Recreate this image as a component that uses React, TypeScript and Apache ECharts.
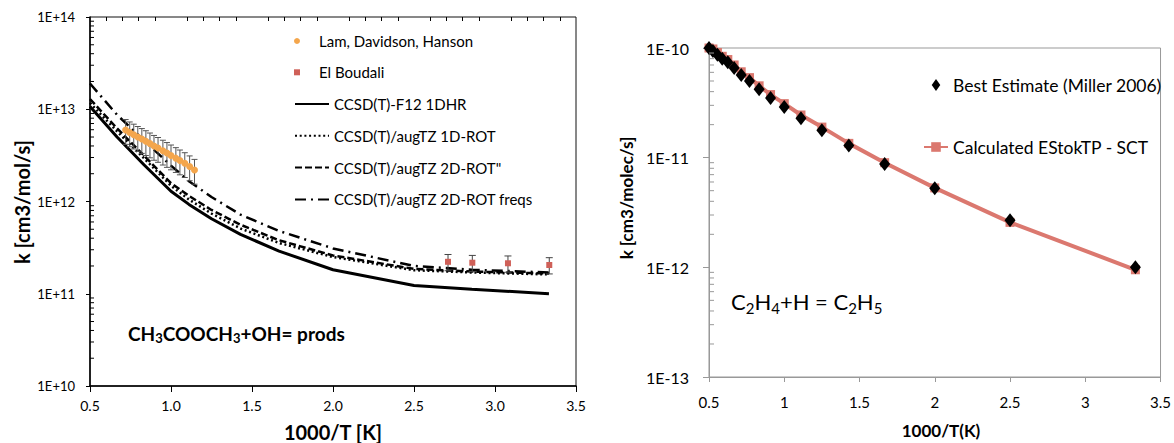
import React, { useEffect, useRef } from 'react';
import * as echarts from 'echarts';

const FONT = 'Lato, "Open Sans", sans-serif';

// ---------- Left chart: CH3COOCH3 + OH ----------
const MODEL_X = [0.5, 0.667, 0.833, 1.0, 1.111, 1.25, 1.429, 1.667, 2.0, 2.5, 2.857, 3.333];
const F12_1DHR = [1.07e13, 5.0e12, 2.5e12, 1.29e12, 9.3e11, 6.5e11, 4.4e11, 2.9e11, 1.82e11, 1.23e11, 1.12e11, 1.0e11];
const AUGTZ_1DROT = [1.17e13, 5.75e12, 2.95e12, 1.48e12, 1.05e12, 7.4e11, 5.1e11, 3.55e11, 2.5e11, 1.8e11, 1.7e11, 1.62e11];
const AUGTZ_2DROT = [1.29e13, 6.2e12, 3.15e12, 1.58e12, 1.15e12, 8.1e11, 5.6e11, 3.8e11, 2.6e11, 1.86e11, 1.74e11, 1.66e11];
const AUGTZ_2DROT_FREQS = [1.9e13, 8.7e12, 4.6e12, 2.45e12, 1.66e12, 1.12e12, 7.2e11, 4.8e11, 3.1e11, 2.0e11, 1.82e11, 1.7e11];

const LAM_X = [0.72, 0.745, 0.77, 0.795, 0.82, 0.845, 0.87, 0.895, 0.92, 0.95, 0.975, 1.0, 1.03, 1.055, 1.085, 1.115, 1.145];
const LAM_K = [5.95e12, 5.6e12, 5.3e12, 5.0e12, 4.75e12, 4.5e12, 4.25e12, 4.0e12, 3.8e12, 3.55e12, 3.35e12, 3.15e12, 2.95e12, 2.78e12, 2.6e12, 2.4e12, 2.2e12];
const LAM_ERR = 0.3; // relative error bar
const EB_X = [2.71, 2.86, 3.08, 3.335];
const EB_K = [2.22e11, 2.17e11, 2.14e11, 2.05e11];
const EB_ERR = 0.2;

const LEFT_NAMES = [
  'Lam, Davidson, Hanson',
  'El Boudali',
  'CCSD(T)-F12 1DHR',
  'CCSD(T)/augTZ 1D-ROT',
  'CCSD(T)/augTZ 2D-ROT"',
  'CCSD(T)/augTZ 2D-ROT freqs',
];

// ---------- Right chart: C2H4 + H ----------
const C2_X = [0.5, 0.526, 0.556, 0.588, 0.625, 0.667, 0.714, 0.769, 0.833, 0.909, 1.0, 1.111, 1.25, 1.429, 1.667, 2.0, 2.5, 3.333];
const MILLER_K = [1.0e-10, 9.4e-11, 8.7e-11, 8.0e-11, 7.4e-11, 6.56e-11, 5.66e-11, 5.0e-11, 4.2e-11, 3.5e-11, 2.9e-11, 2.29e-11, 1.78e-11, 1.29e-11, 8.75e-12, 5.27e-12, 2.69e-12, 1.0e-12];
const ESTOKTP_K = [1.0e-10, 9.8e-11, 9.1e-11, 8.4e-11, 7.85e-11, 7.0e-11, 6.07e-11, 5.37e-11, 4.52e-11, 3.76e-11, 3.11e-11, 2.45e-11, 1.9e-11, 1.35e-11, 9.0e-12, 5.3e-12, 2.57e-12, 9.5e-13];
const RIGHT_NAMES = ['Best Estimate (Miller 2006)', 'Calculated EStokTP - SCT'];

// log minor tick decades
const LEFT_DECADES = [10, 11, 12, 13];
const RIGHT_DECADES = [-13, -12, -11];
const MINOR_MULT = [2, 3, 4, 5, 6, 7, 8, 9];

const SQUARE_ICON = 'path://M0,0L10,0L10,10L0,10Z';
const DIAMOND_ICON = 'path://M5,0L10,7L5,14L0,7Z';

const zip = (xs: number[], ys: number[]) => xs.map((x, i) => [x, ys[i]]);
const minorData = (decades: number[]) => {
  const out: number[][] = [];
  decades.forEach((e) => MINOR_MULT.forEach((m) => out.push([0.5, m * Math.pow(10, e)])));
  return out;
};

function buildOption(): any {
  const errBar = (color: string, w: number) => (params: any, api: any) => {
    const x = api.value(0);
    const top = api.coord([x, api.value(1)]);
    const bot = api.coord([x, api.value(2)]);
    const st = { stroke: color, lineWidth: 1 };
    return {
      type: 'group',
      children: [
        { type: 'line', shape: { x1: top[0], y1: top[1], x2: bot[0], y2: bot[1] }, style: st },
        { type: 'line', shape: { x1: top[0] - w, y1: top[1], x2: top[0] + w, y2: top[1] }, style: st },
        { type: 'line', shape: { x1: bot[0] - w, y1: bot[1], x2: bot[0] + w, y2: bot[1] }, style: st },
      ],
    };
  };
  const minorTick = (color: string, len: number) => (params: any, api: any) => {
    const p = api.coord([api.value(0), api.value(1)]);
    return {
      type: 'line',
      shape: { x1: p[0], y1: p[1], x2: p[0] + len, y2: p[1] },
      style: { stroke: color, lineWidth: 1 },
    };
  };

  const lineSeries = (name: string, data: number[], width: number, type: any) => ({
    name,
    type: 'line',
    xAxisIndex: 0,
    yAxisIndex: 0,
    data: zip(MODEL_X, data),
    symbol: 'none',
    smooth: false,
    lineStyle: { color: '#000', width, type },
    itemStyle: { color: '#000' },
    z: 2,
  });

  const legendText = (size: number, lh: number) => ({ fontSize: size, fontFamily: FONT, color: '#000', lineHeight: lh });

  return {
    animation: false,
    backgroundColor: '#fff',
    textStyle: { fontFamily: FONT },
    grid: [
      { left: 90, top: 17, width: 486, height: 369, show: true, borderColor: '#111', borderWidth: 1, backgroundColor: 'transparent' },
      { left: 709, top: 48, width: 453, height: 329, show: true, borderColor: '#999', borderWidth: 1, backgroundColor: 'transparent' },
    ],
    legend: [
      {
        data: [LEFT_NAMES[0], { name: LEFT_NAMES[1], icon: SQUARE_ICON }],
        orient: 'vertical', left: 294, top: 33, padding: 0,
        itemWidth: 34, itemHeight: 6, itemGap: 15.3, itemTextGap: 3,
        symbolKeepAspect: true,
        textStyle: legendText(15, 16),
      },
      {
        data: LEFT_NAMES.slice(2),
        orient: 'vertical', left: 294, top: 96, padding: 0,
        itemWidth: 34, itemHeight: 14, itemGap: 15.8, itemTextGap: 3,
        itemStyle: { opacity: 0 },
        textStyle: legendText(15, 16),
      },
      {
        data: [{ name: RIGHT_NAMES[0], icon: DIAMOND_ICON }, RIGHT_NAMES[1]],
        orient: 'vertical', left: 923, top: 76, padding: 0,
        itemWidth: 24, itemHeight: 12, itemGap: 44, itemTextGap: 1,
        symbolKeepAspect: true,
        textStyle: legendText(17.5, 18),
      },
    ],
    xAxis: [
      {
        gridIndex: 0, type: 'value', min: 0.5, max: 3.5, interval: 0.5,
        axisLine: { lineStyle: { color: '#000', width: 1.5 } },
        axisTick: { inside: false, length: 6, lineStyle: { color: '#000' } },
        axisLabel: { formatter: (v: number) => v.toFixed(1), fontSize: 14, color: '#000', fontFamily: FONT, margin: 12 },
        splitLine: { show: false },
      },
      {
        gridIndex: 0, type: 'value', min: 0.5, max: 3.5, interval: 0.5,
        axisLine: { show: false },
        axisTick: { show: false, inside: true },
        minorTick: { show: true, splitNumber: 5, length: 4, lineStyle: { color: '#000' } },
        axisLabel: { show: false },
        splitLine: { show: false },
      },
      {
        gridIndex: 1, type: 'value', min: 0.5, max: 3.5, interval: 0.5,
        axisLine: { lineStyle: { color: '#999', width: 1 } },
        axisTick: { inside: false, length: 5, lineStyle: { color: '#999' } },
        axisLabel: { formatter: (v: number) => String(v), fontSize: 15, color: '#000', fontFamily: FONT, margin: 17 },
        splitLine: { show: false },
      },
    ],
    yAxis: [
      {
        gridIndex: 0, type: 'log', logBase: 10, min: 1e10, max: 1e14,
        axisLine: { show: true, lineStyle: { color: '#000', width: 1.5 } },
        axisTick: { show: true, inside: false, length: 4, lineStyle: { color: '#000' } },
        axisLabel: {
          formatter: (v: number) => '1E+' + Math.round(Math.log10(v)),
          fontSize: 13, color: '#000', fontFamily: FONT, margin: 15,
        },
        splitLine: { show: false },
      },
      {
        gridIndex: 1, type: 'log', logBase: 10, min: 1e-13, max: 1e-10,
        axisLine: { show: true, lineStyle: { color: '#999', width: 1 } },
        axisTick: { show: true, inside: false, length: 6, lineStyle: { color: '#999' } },
        axisLabel: {
          formatter: (v: number) => '1E' + Math.round(Math.log10(v)),
          fontSize: 16, color: '#000', fontFamily: FONT, margin: 20,
        },
        splitLine: { show: false },
      },
    ],
    series: [
      {
        name: 'Lam error', type: 'custom', xAxisIndex: 0, yAxisIndex: 0, silent: true, z: 3,
        data: LAM_X.map((x, i) => [x, LAM_K[i] * (1 + LAM_ERR), LAM_K[i] * (1 - LAM_ERR)]),
        encode: { x: 0, y: [1, 2] },
        renderItem: errBar('#555', 3),
      },
      {
        name: 'El Boudali error', type: 'custom', xAxisIndex: 0, yAxisIndex: 0, silent: true, z: 3,
        data: EB_X.map((x, i) => [x, EB_K[i] * (1 + EB_ERR), EB_K[i] * (1 - EB_ERR)]),
        encode: { x: 0, y: [1, 2] },
        renderItem: errBar('#444', 3.5),
      },
      {
        name: LEFT_NAMES[0], type: 'scatter', xAxisIndex: 0, yAxisIndex: 0,
        data: zip(LAM_X, LAM_K), symbol: 'circle', symbolSize: 7,
        itemStyle: { color: '#F4A64C', opacity: 1 }, z: 4,
      },
      {
        name: LEFT_NAMES[1], type: 'scatter', xAxisIndex: 0, yAxisIndex: 0,
        data: zip(EB_X, EB_K), symbol: 'rect', symbolSize: 6,
        itemStyle: { color: '#CF6058', opacity: 1 }, z: 4,
      },
      lineSeries(LEFT_NAMES[2], F12_1DHR, 3, 'solid'),
      lineSeries(LEFT_NAMES[3], AUGTZ_1DROT, 2.5, [2, 2.7]),
      lineSeries(LEFT_NAMES[4], AUGTZ_2DROT, 2.5, [7, 3]),
      lineSeries(LEFT_NAMES[5], AUGTZ_2DROT_FREQS, 2.5, [11, 5, 2, 5]),
      {
        name: 'left minor ticks', type: 'custom', xAxisIndex: 0, yAxisIndex: 0, silent: true, z: 6,
        data: minorData(LEFT_DECADES), encode: { x: 0, y: 1 }, renderItem: minorTick('#000', 4),
      },
      {
        name: 'right minor ticks', type: 'custom', xAxisIndex: 2, yAxisIndex: 1, silent: true, z: 6,
        data: minorData(RIGHT_DECADES), encode: { x: 0, y: 1 }, renderItem: minorTick('#999', 5),
      },
      {
        name: RIGHT_NAMES[1], type: 'line', xAxisIndex: 2, yAxisIndex: 1,
        data: zip(C2_X, ESTOKTP_K), symbol: 'rect', symbolSize: 9, showSymbol: true,
        lineStyle: { color: '#DB786F', width: 4 }, itemStyle: { color: '#DB786F' }, z: 3,
      },
      {
        name: RIGHT_NAMES[0], type: 'scatter', xAxisIndex: 2, yAxisIndex: 1,
        data: zip(C2_X, MILLER_K), symbol: 'diamond', symbolSize: [11, 14],
        itemStyle: { color: '#000', opacity: 1 }, z: 5,
      },
    ],
    graphic: [
      {
        type: 'text', x: 22, y: 202, rotation: Math.PI / 2,
        style: { text: 'k [cm3/mol/s]', fontSize: 20, fontWeight: 'bold', fontFamily: FONT, fill: '#000', align: 'center', verticalAlign: 'middle' },
      },
      {
        type: 'text', x: 333, y: 432,
        style: { text: '1000/T [K]', fontSize: 20, fontWeight: 'bold', fontFamily: FONT, fill: '#000', align: 'center', verticalAlign: 'middle' },
      },
      {
        type: 'text', x: 626, y: 198, rotation: Math.PI / 2,
        style: { text: 'k [cm3/molec/s]', fontSize: 17, fontWeight: 'bold', fontFamily: FONT, fill: '#000', align: 'center', verticalAlign: 'middle' },
      },
      {
        type: 'text', x: 941, y: 430,
        style: { text: '1000/T(K)', fontSize: 17, fontWeight: 'bold', fontFamily: FONT, fill: '#000', align: 'center', verticalAlign: 'middle' },
      },
      {
        type: 'text', x: 128, y: 333,
        style: {
          text: '{m|CH}{s|3}{m|COOCH}{s|3}{m|+OH= prods}',
          fill: '#000', align: 'left', verticalAlign: 'middle', fontFamily: FONT,
          rich: {
            m: { fontSize: 19, fontWeight: 'bold', fontFamily: FONT, lineHeight: 23, fill: '#000' },
            s: { fontSize: 13, fontWeight: 'bold', fontFamily: FONT, lineHeight: 13, padding: [10, 0, 0, 0], fill: '#000' },
          },
        },
      },
      {
        type: 'text', x: 731, y: 301,
        style: {
          text: '{m|C}{s|2}{m|H}{s|4}{m|+H = C}{s|2}{m|H}{s|5}',
          fill: '#000', align: 'left', verticalAlign: 'middle', fontFamily: FONT,
          rich: {
            m: { fontSize: 22, fontFamily: FONT, lineHeight: 26, fill: '#000' },
            s: { fontSize: 15, fontFamily: FONT, lineHeight: 15, padding: [14, 0, 0, 0], fill: '#000' },
          },
        },
      },
    ],
  };
}

export default function App() {
  const ref = useRef<HTMLDivElement>(null);
  useEffect(() => {
    if (!ref.current) return;
    const chart = echarts.init(ref.current, undefined, { renderer: 'svg' });
    chart.setOption(buildOption());
    return () => chart.dispose();
  }, []);
  return (
    <div
      ref={ref}
      style={{ position: 'absolute', left: 0, top: 0, width: 1174, height: 443, background: '#fff' }}
    />
  );
}
